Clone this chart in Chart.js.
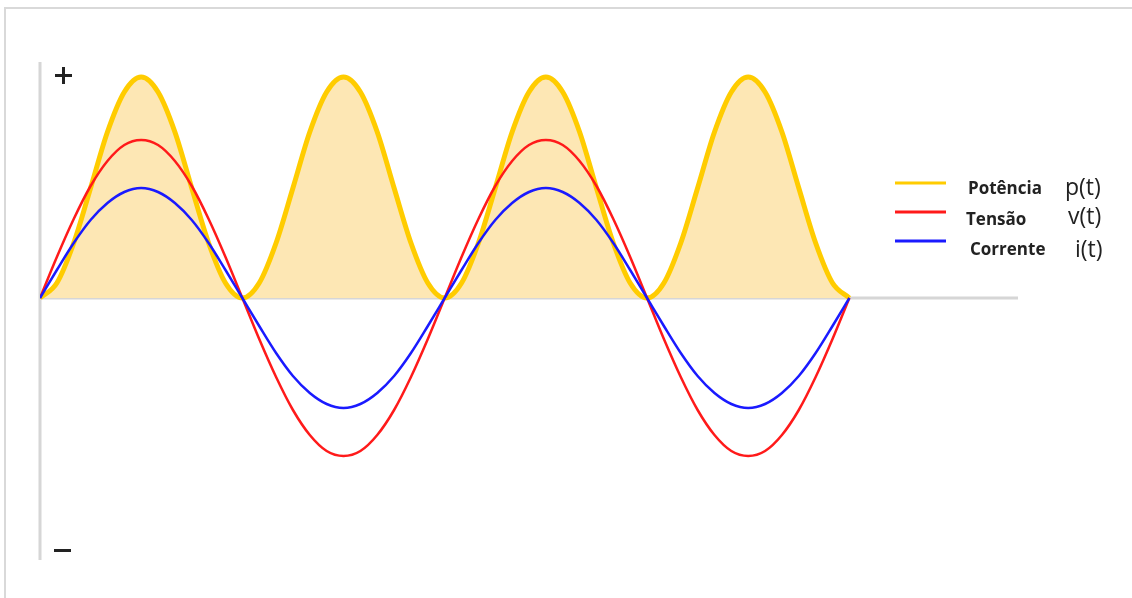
<!DOCTYPE html>
<html>
<head>
<meta charset="utf-8">
<script src="https://cdn.jsdelivr.net/npm/chart.js@4/dist/chart.umd.min.js"></script>
<style>
    html, body { margin: 0; padding: 0; background: #fff; }
    #wrap { width: 1132px; height: 598px; }
</style>
</head>
<body>
<div id="wrap"><canvas id="waveChart" width="1132" height="598"></canvas></div>
<script>
// Phase angle in degrees (two full cycles)
const angles = [0, 15, 30, 45, 60, 75, 90, 105, 120, 135, 150, 165, 180,
    195, 210, 225, 240, 255, 270, 285, 300, 315, 330, 345, 360,
    375, 390, 405, 420, 435, 450, 465, 480, 495, 510, 525, 540,
    555, 570, 585, 600, 615, 630, 645, 660, 675, 690, 705, 720];

// Tensão v(t)
const voltage = [0, 41, 79, 112, 137, 153, 158, 153, 137, 112, 79, 41, 0,
    -41, -79, -112, -137, -153, -158, -153, -137, -112, -79, -41, 0,
    41, 79, 112, 137, 153, 158, 153, 137, 112, 79, 41, 0,
    -41, -79, -112, -137, -153, -158, -153, -137, -112, -79, -41, 0];

// Corrente i(t)
const current = [0, 28, 55, 78, 95, 106, 110, 106, 95, 78, 55, 28, 0,
    -28, -55, -78, -95, -106, -110, -106, -95, -78, -55, -28, 0,
    28, 55, 78, 95, 106, 110, 106, 95, 78, 55, 28, 0,
    -28, -55, -78, -95, -106, -110, -106, -95, -78, -55, -28, 0];

// Potência p(t)
const power = [0, 15, 55, 110, 166, 206, 221, 206, 166, 110, 55, 15, 0,
    15, 55, 110, 166, 206, 221, 206, 166, 110, 55, 15, 0,
    15, 55, 110, 166, 206, 221, 206, 166, 110, 55, 15, 0,
    15, 55, 110, 166, 206, 221, 206, 166, 110, 55, 15, 0];

const legendItems = [
    { name: 'Potência', symbol: 'p(t)', color: '#ffcc00' },
    { name: 'Tensão', symbol: 'v(t)', color: '#ff1a1a' },
    { name: 'Corrente', symbol: 'i(t)', color: '#1a1aff' }
];

function toPoints(values) {
    return values.map((v, i) => ({ x: angles[i], y: v }));
}

const decorPlugin = {
    id: 'decor',
    beforeDatasetsDraw(chart) {
        const ctx = chart.ctx;
        const x = chart.scales.x;
        const y = chart.scales.y;
        const area = chart.chartArea;
        ctx.save();
        // picture frame
        ctx.strokeStyle = '#d9d9d9';
        ctx.lineWidth = 2;
        ctx.beginPath();
        ctx.moveTo(5, 598);
        ctx.lineTo(5, 8);
        ctx.lineTo(1132, 8);
        ctx.stroke();
        // axes
        ctx.strokeStyle = '#d6d6d6';
        ctx.lineWidth = 3;
        ctx.beginPath();
        ctx.moveTo(x.getPixelForValue(0), area.top);
        ctx.lineTo(x.getPixelForValue(0), area.bottom);
        ctx.moveTo(area.left, y.getPixelForValue(0));
        ctx.lineTo(area.right, y.getPixelForValue(0));
        ctx.stroke();
        ctx.restore();
    },
    afterDraw(chart) {
        const ctx = chart.ctx;
        ctx.save();
        ctx.fillStyle = '#222';
        ctx.textBaseline = 'middle';
        // + and - signs at the ends of the vertical axis
        ctx.fillRect(55, 74, 17, 3);
        ctx.fillRect(62, 67, 3, 17);
        ctx.fillRect(54, 549, 17, 3);

        legendItems.forEach((item, i) => {
            const ly = 183 + i * 29;
            ctx.strokeStyle = item.color;
            ctx.lineWidth = 3;
            ctx.beginPath();
            ctx.moveTo(895, ly);
            ctx.lineTo(946, ly);
            ctx.stroke();
            ctx.fillStyle = '#222';
            ctx.font = 'bold 17px "Open Sans", sans-serif';
            ctx.fillText(item.name, [968, 966, 970][i], ly + [6, 8, 9][i]);
            ctx.font = '23px "Open Sans", sans-serif';
            ctx.fillText(item.symbol, [1065, 1068, 1075][i], ly + [5, 5, 9][i]);
        });
        ctx.restore();
    }
};

const chart = new Chart(document.getElementById('waveChart'), {
    type: 'line',
    data: {
        datasets: [
            {
                label: 'Corrente',
                data: toPoints(current),
                borderColor: '#1a1aff',
                borderWidth: 2.5,
                pointRadius: 0,
                fill: false,
                cubicInterpolationMode: 'monotone'
            },
            {
                label: 'Tensão',
                data: toPoints(voltage),
                borderColor: '#ff1a1a',
                borderWidth: 2.5,
                pointRadius: 0,
                fill: false,
                cubicInterpolationMode: 'monotone'
            },
            {
                label: 'Potência',
                data: toPoints(power),
                borderColor: '#ffcc00',
                backgroundColor: '#fde7b4',
                borderWidth: 5,
                pointRadius: 0,
                fill: 'origin',
                cubicInterpolationMode: 'monotone'
            }
        ]
    },
    options: {
        responsive: false,
        animation: false,
        layout: { padding: { left: 40, top: 62, right: 114, bottom: 38 } },
        plugins: { legend: { display: false }, tooltip: { enabled: false } },
        scales: {
            x: { type: 'linear', min: 0, max: 870, display: false },
            y: { min: -262, max: 236, display: false }
        }
    },
    plugins: [decorPlugin]
});
</script>
</body>
</html>
